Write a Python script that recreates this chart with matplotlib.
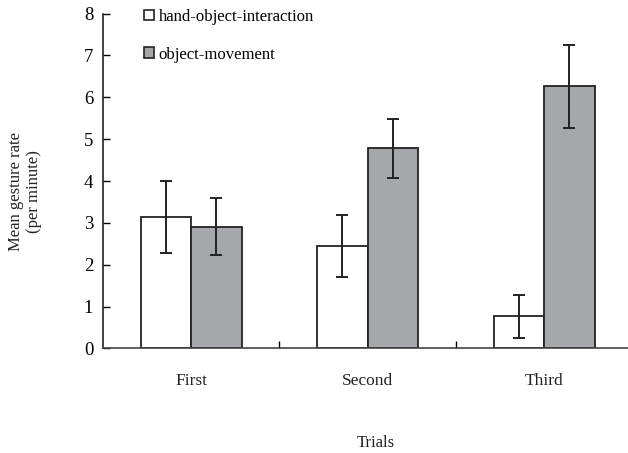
import matplotlib.pyplot as plt
import numpy as np
from matplotlib.patches import Patch

plt.rcParams["font.family"] = ["Liberation Serif", "DejaVu Serif"]

trials = ["First", "Second", "Third"]
hand_object = [3.13, 2.45, 0.77]
hand_object_err = [0.86, 0.75, 0.51]
object_movement = [2.91, 4.78, 6.26]
object_movement_err = [0.68, 0.71, 0.99]

EDGE = "#222222"
GRAY = "#a6a7ab"


def main() -> None:
    fig = plt.figure(figsize=(6.28, 4.53), dpi=100)
    ax = fig.add_axes([0.164, 0.2307, 0.843, 0.7393])

    x = np.arange(len(trials))
    width = 0.286
    err_kw = dict(ecolor=EDGE, elinewidth=1.4, capsize=4, capthick=1.4)

    ax.bar(x - width / 2, hand_object, width, yerr=hand_object_err,
           color="white", edgecolor=EDGE, linewidth=1.3, error_kw=err_kw)
    ax.bar(x + width / 2, object_movement, width, yerr=object_movement_err,
           color=GRAY, edgecolor=EDGE, linewidth=1.3, error_kw=err_kw)

    ax.set_xlim(-0.5, 2.5)
    ax.set_ylim(0, 8)
    ax.set_yticks(range(9))
    ax.tick_params(axis="y", direction="in", length=5, width=1, pad=7,
                   labelsize=13.5)

    # category labels sit centred under each pair, ticks fall between pairs
    ax.set_xticks([0.5, 1.5])
    ax.set_xticklabels([])
    ax.tick_params(axis="x", direction="in", length=5, width=1)
    for xi, name in zip(x, trials):
        ax.annotate(name, (xi, 0), xytext=(0, -18), textcoords="offset points",
                    ha="center", va="top", fontsize=12.5, color="#222222",
                    annotation_clip=False)

    for side in ("top", "right"):
        ax.spines[side].set_visible(False)
    ax.spines["left"].set_color(EDGE)
    ax.spines["bottom"].set_color("#444444")
    ax.spines["left"].set_linewidth(1.2)
    ax.spines["bottom"].set_linewidth(1.2)

    fig.text(0.04, 0.578, "Mean gesture rate\n(per minute)", rotation=90,
             ha="center", va="center", fontsize=12, linespacing=1.15,
             color="#222222")
    fig.text(0.598, 0.022, "Trials", ha="center", va="center", fontsize=12,
             color="#222222")

    handles = [
        Patch(facecolor="white", edgecolor=EDGE, linewidth=1.2),
        Patch(facecolor=GRAY, edgecolor=EDGE, linewidth=1.2),
    ]
    fig.legend(handles, ["hand-object-interaction", "object-movement"],
               loc="upper left", bbox_to_anchor=(0.218, 0.995), frameon=False,
               fontsize=12, handlelength=0.6, handleheight=0.6,
               handletextpad=0.3, labelspacing=1.3, borderaxespad=0)

    fig.savefig("out.png", dpi=100)
    plt.close(fig)


if __name__ == "__main__":
    main()
